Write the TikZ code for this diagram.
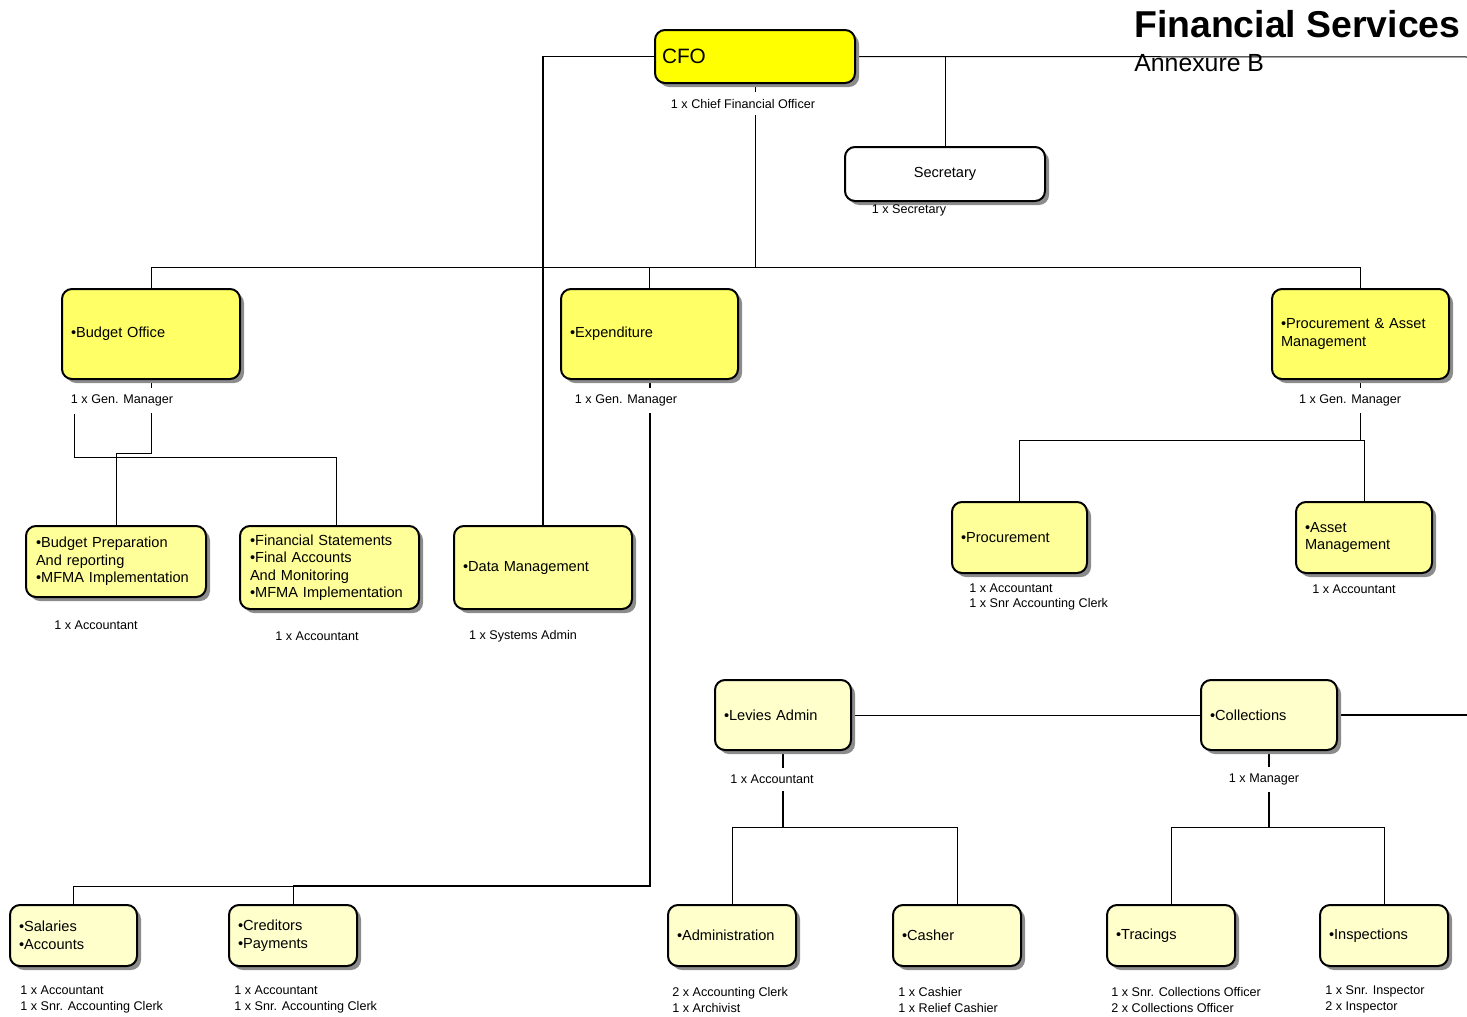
\documentclass[tikz,border=0pt]{standalone}
\usepackage{fontspec}
\setmainfont{Liberation Sans}
\usetikzlibrary{shadows,calc}
\pgfdeclarelayer{bg}
\pgfsetlayers{bg,main}

\newcommand\labfont{\fontsize{6.3}{8}\selectfont}
\newcommand\boxfont{\fontsize{7.3}{8.75}\selectfont}

\definecolor{lvlA}{HTML}{FFFF00}
\definecolor{lvlB}{HTML}{FFFF66}
\definecolor{lvlC}{HTML}{FFFF99}
\definecolor{lvlD}{HTML}{FFFFCC}

\tikzset{
  unitbox/.style={draw=black, line width=1pt, rounded corners=5pt,
    inner xsep=4pt, inner ysep=0pt, align=left, font=\boxfont,
    drop shadow={shadow xshift=2pt, shadow yshift=-2pt, fill=black!45, opacity=1}},
  lab/.style={font=\labfont, inner sep=1pt},
  coverlab/.style={lab, fill=white, inner ysep=3.5pt},
  listlab/.style={lab, anchor=west, align=left},
  thinline/.style={line width=0.5pt},
  midline/.style={line width=0.8pt},
  thickline/.style={line width=1pt},
}

% org box from its corner coordinates: name, x1, y1, x2, y2, extra style, text
\newcommand{\orgbox}[7]{%
  \pgfmathsetmacro\bxc{(#2+#4)/2}%
  \pgfmathsetmacro\byc{(#3+#5)/2}%
  \pgfmathsetmacro\bxw{(#4-#2)*0.5}%
  \pgfmathsetmacro\bxh{(#5-#3)*0.5}%
  \pgfmathsetmacro\bxt{(#4-#2)*0.5-9}%
  \node[unitbox, minimum width=\bxw pt, minimum height=\bxh pt,
        text width=\bxt pt, #6] (#1) at (\bxc,\byc) {#7};}

\begin{document}
\begin{tikzpicture}[x=0.5pt, y=-0.5pt]
\useasboundingbox (0,0) rectangle (1467,1017);

% title
\node[anchor=base east, inner sep=0pt, font=\bfseries\fontsize{18.7}{20}\selectfont]
  (title) at (1461,38) {Financial Services};
\node[anchor=base west, inner sep=0pt, font=\fontsize{12.4}{14}\selectfont]
  (annex) at (1134,71) {Annexure B};

% boxes
\orgbox{cfo}{655}{30}{855}{83}{fill=lvlA, font=\fontsize{10.4}{12}\selectfont, inner xsep=2.5pt, text width=93pt}{CFO}
\orgbox{sec}{845}{147}{1045}{201}{fill=white, align=center}{Secretary}

\orgbox{bo}{62}{289}{240}{379}{fill=lvlB}{•Budget Office}
\orgbox{ex}{561}{289}{738}{379}{fill=lvlB}{•Expenditure}
\orgbox{pa}{1272}{289}{1449}{379}{fill=lvlB}{•Procurement \& Asset\\Management}

\orgbox{bp}{27}{526}{205}{597}{fill=lvlC, inner xsep=5pt}{•Budget Preparation\\And reporting\\•MFMA Implementation}
\orgbox{fs}{241}{526}{418}{609}{fill=lvlC, inner xsep=5pt}{•Financial Statements\\•Final Accounts\\And Monitoring\\•MFMA Implementation}
\orgbox{dm}{454}{526}{632}{609}{fill=lvlC}{•Data Management}
\orgbox{pr}{952}{502}{1087}{573}{fill=lvlC}{•Procurement}
\orgbox{as}{1296}{502}{1432}{573}{fill=lvlC}{•Asset\\Management}

\orgbox{la}{715}{680}{851}{750}{fill=lvlD}{•Levies Admin}
\orgbox{co}{1201}{680}{1337}{750}{fill=lvlD}{•Collections}

\orgbox{sa}{10}{905}{137}{966}{fill=lvlD}{•Salaries\\•Accounts}
\orgbox{cr}{229}{905}{357}{966}{fill=lvlD}{•Creditors\\•Payments}
\orgbox{ad}{668}{905}{796}{966}{fill=lvlD}{•Administration}
\orgbox{cs}{893}{905}{1021}{966}{fill=lvlD}{•Casher}
\orgbox{tr}{1107}{905}{1235}{966}{fill=lvlD}{•Tracings}
\orgbox{insp}{1320}{905}{1448}{966}{fill=lvlD}{•Inspections}

% free line ends
\coordinate (edgeTop) at (1467,57);
\coordinate (edgeMid) at (1467,715);
\coordinate (bus) at (755,267);
\coordinate (boFree) at (74,414);

% connectors
\begin{pgfonlayer}{bg}
  \draw[thinline] (cfo.east) -- (edgeTop);
  \draw[thinline] (cfo.east -| sec.north) -- (sec.north);
  \draw[midline] (cfo.west) -| (dm.north);
  \draw[thinline] (cfo.south) -- (bus);
  \draw[thinline] (bo.north) -- (bo.north |- bus) -- (pa.north |- bus) -- (pa.north);
  \draw[thinline] (ex.north) -- (ex.north |- bus);

  % budget office
  \draw[thinline] (bo.south) -- ++(0,73) -| (bp.north);
  \draw[thinline] (boFree) -- (74,457) -| ($(fs.north)+(6.5,0)$);

  % expenditure
  \draw[thickline] (ex.south) -- (ex.south |- 0,886) -- (cr.north |- 0,886);
  \draw[thinline] (cr.north |- 0,886) -- (cr.north);
  \draw[thinline] (cr.north |- 0,886) -| (sa.north);

  % procurement & asset management
  \draw[midline] (pa.south) -- (pa.south |- 0,440);
  \draw[thinline] (pr.north) |- (as.north |- 0,440) -- (as.north);

  % revenue
  \draw[thinline] (la.east) -- (co.west);
  \draw[thickline] (co.east) -- (edgeMid);
  \draw[midline] (la.south) -- (la.south |- 0,827);
  \draw[thinline] (ad.north) |- (la.south |- 0,827) -| (cs.north);
  \draw[midline] (co.south) -- (co.south |- 0,827);
  \draw[thinline] (tr.north) |- (co.south |- 0,827) -| (insp.north);
\end{pgfonlayer}

% staffing labels
\node[coverlab] (cfoLab) at (743,103.5) {1 x Chief Financial Officer};
\node[lab] (secLab) at (909,210.5) {1 x Secretary};
\node[coverlab] (boLab) at (122,400.5) {1 x Gen. Manager};
\node[coverlab] (exLab) at (626,400.5) {1 x Gen. Manager};
\node[coverlab] (paLab) at (1350,400.5) {1 x Gen. Manager};
\node[lab] (bpLab) at (96,625.5) {1 x Accountant};
\node[lab] (fsLab) at (317,636.5) {1 x Accountant};
\node[lab] (dmLab) at (523,636.5) {1 x Systems Admin};
\node[listlab, font=\fontsize{6.3}{7.5}\selectfont] (prLab) at (967,597) {1 x Accountant\\1 x Snr Accounting Clerk};
\node[lab] (asLab) at (1354,589.5) {1 x Accountant};
\node[coverlab] (laLab) at (772,779.5) {1 x Accountant};
\node[coverlab] (coLab) at (1264,779.5) {1 x Manager};
\node[listlab] (saLab) at (18,999.5) {1 x Accountant\\1 x Snr. Accounting Clerk};
\node[listlab] (crLab) at (232,999.5) {1 x Accountant\\1 x Snr. Accounting Clerk};
\node[listlab] (adLab) at (670,999.5) {2 x Accounting Clerk\\1 x Archivist};
\node[listlab] (csLab) at (896,999.5) {1 x Cashier\\1 x Relief Cashier};
\node[listlab] (trLab) at (1109,999.5) {1 x Snr. Collections Officer\\2 x Collections Officer};
\node[listlab] (inLab) at (1323,999.5) {1 x Snr. Inspector\\2 x Inspector};
\end{tikzpicture}
\end{document}
